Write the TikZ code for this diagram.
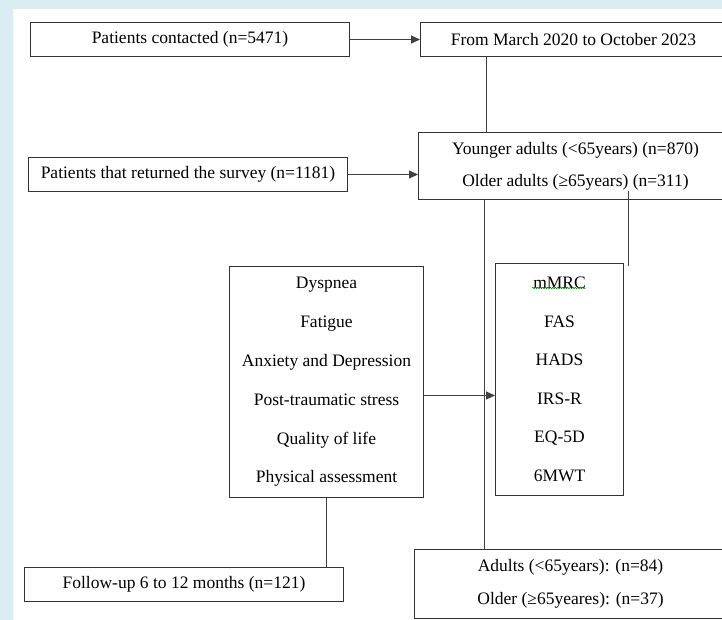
\documentclass[tikz,border=0pt]{standalone}
\usepackage{fontspec}
\setmainfont{Liberation Serif}
\usetikzlibrary{arrows.meta, decorations.pathmorphing}
\definecolor{pagetint}{RGB}{218,237,243}

\begin{document}
\begin{tikzpicture}[
  x=1pt, y=-1pt,
  fbox/.style={draw=black!80, line width=1pt, anchor=north west, inner sep=0pt, align=center, font=\fontsize{17.5}{20}\selectfont},
  link/.style={draw=black!75, line width=1pt},
  arrow/.style={link, -{Triangle[length=9pt, width=8pt]}}
]
  \useasboundingbox (0,0) rectangle (722,620);
  \fill[pagetint] (0,0) rectangle (722,620);
  \fill[white] (13,9) rectangle (722,620);
  \clip (0,0) rectangle (722,620);

  \node[fbox, minimum width=319pt, minimum height=34pt] (contacted) at (30,22) {Patients contacted (n=5471)};
  \node[fbox, minimum width=306pt, minimum height=34pt] (period) at (420,22) {From March 2020 to October 2023};
  \node[fbox, minimum width=319pt, minimum height=34pt] (returned) at (28,157) {Patients that returned the survey (n=1181)};
  \node[fbox, minimum width=314pt, minimum height=67pt, font=\fontsize{17.5}{32}\selectfont] (groups) at (418,132)
    {Younger adults (<65years) (n=870)\\ Older adults (≥65years) (n=311)};
  \node[fbox, minimum width=194pt, minimum height=231pt, font=\fontsize{17.5}{38.8}\selectfont] (outcomes) at (229,266)
    {Dyspnea\\ Fatigue\\ Anxiety and Depression\\ Post-traumatic stress\\ Quality of life\\ Physical assessment};
  \node[fbox, minimum width=128pt, minimum height=232pt, font=\fontsize{17.5}{38.5}\selectfont] (scales) at (495,263)
    {mMRC\\ FAS\\ HADS\\ IRS-R\\ EQ-5D\\ 6MWT};
  \node[fbox, minimum width=319pt, minimum height=34pt] (followup) at (24,567) {Follow-up 6 to 12 months (n=121)};
  \node[fbox, minimum width=312pt, minimum height=69pt, font=\fontsize{17.5}{33}\selectfont] (subgroups) at (414,549)
    {Adults (<65years): (n=84)\\ Older (≥65yeares): (n=37)};

  \draw[arrow] (contacted.east) -- (period.west);
  \draw[link]  ([xshift=66pt]period.south west) -- ([xshift=68pt]groups.north west);
  \draw[arrow] (returned.east) -- (returned.east -| groups.west);
  \draw[link]  ([xshift=66pt]groups.south west) -- ([xshift=70pt]subgroups.north west);
  \draw[link]  ([xshift=4pt, yshift=-3pt]scales.north east) -- ++(0,-75);
  \draw[arrow] ([yshift=-13.5pt]outcomes.east) -- ([yshift=-13.5pt]outcomes.east -| scales.west);
  \draw[link]  (outcomes.south) -- (outcomes.south |- followup.north);

  % spell-check squiggle under mMRC
  \draw[green!55!black, line width=0.5pt, decorate, decoration={snake, amplitude=0.8pt, segment length=2.5pt}] (532,288) -- (586,288);
\end{tikzpicture}
\end{document}
